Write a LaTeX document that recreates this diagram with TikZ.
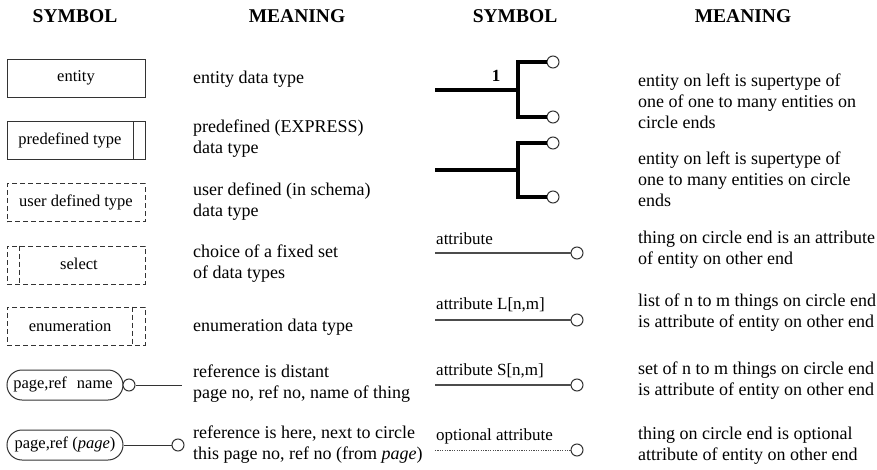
\documentclass[tikz,border=0pt]{standalone}
\usepackage{fontspec}
\setmainfont{Liberation Serif}
\usetikzlibrary{calc}
\begin{document}
\begin{tikzpicture}[x=1pt,y=-1pt,
  hdr/.style={font=\fontsize{19.5}{22}\selectfont\bfseries},
  txt/.style={font=\fontsize{18}{21}\selectfont,align=left,anchor=west,inner sep=0},
  lbl/.style={font=\fontsize{16.5}{20}\selectfont,inner sep=0},
  albl/.style={font=\fontsize{17}{20}\selectfont,inner sep=0,anchor=west},
  box/.style={draw=black!80,line width=1pt,minimum width=138,minimum height=38,inner sep=0},
  dbox/.style={box,dash pattern=on 5pt off 3pt},
  oval/.style={draw=black!80,line width=1pt,rounded corners=15pt,minimum width=116,minimum height=30,inner sep=0},
  ring/.style={circle,draw=black!80,line width=1pt,fill=white,minimum size=12,inner sep=0},
  thickl/.style={line width=4pt},
  attl/.style={draw=black!70,line width=1.3pt},
]
\useasboundingbox (0,0) rectangle (877,470);
% headers
\node[hdr] (h1) at (75,16) {SYMBOL};
\node[hdr] (h2) at (297,16) {MEANING};
\node[hdr] (h3) at (515,16) {SYMBOL};
\node[hdr] (h4) at (743,16) {MEANING};

% left symbols
\node[box] (ent) at (76,79) {};
\node[lbl] (entl) at (76,78) {entity};

\node[box] (pre) at (76,141) {};
\node[lbl] (prel) at (70,140) {predefined type};
\draw[draw=black!80,line width=1pt] ($(pre.north east)+(-12,0)$) -- ($(pre.south east)+(-12,0)$);

\node[dbox] (usr) at (76,203) {};
\node[lbl] (usrl) at (76,202) {user defined type};

\node[dbox] (sel) at (76,265) {};
\node[lbl] (sell) at (79,264) {select};
\draw[draw=black!80,line width=1pt,dash pattern=on 5pt off 3pt] ($(sel.north west)+(13,0)$) -- ($(sel.south west)+(13,0)$);

\node[dbox] (enu) at (76,326) {};
\node[lbl] (enul) at (70,326) {enumeration};
\draw[draw=black!80,line width=1pt,dash pattern=on 5pt off 3pt] ($(enu.north east)+(-13,0)$) -- ($(enu.south east)+(-13,0)$);

\node[oval] (pr1) at (65,385) {};
\node[lbl] (pr1l) at (63,384) {page,ref\hspace{10pt}name};
\node[ring] (r1) at ($(pr1.east)+(5.5,0)$) {};
\coordinate (e1) at (182,385);
\draw[draw=black!80,line width=1pt] (r1) -- (e1);

\node[oval] (pr2) at (65,445) {};
\node[lbl] (pr2l) at (65,444) {page,ref (\textit{page})};
\node[ring] (r2) at (178,445) {};
\draw[draw=black!80,line width=1pt] (pr2) -- (r2);

% left meanings
\node[txt] (m1) at (193,79) {entity data type};
\node[txt] (m2) at (193,139) {predefined (EXPRESS)\\data type};
\node[txt] (m3) at (193,202) {user defined (in schema)\\data type};
\node[txt] (m4) at (193,264) {choice of a fixed set\\of data types};
\node[txt] (m5) at (193,327) {enumeration data type};
\node[txt] (m6) at (193,384) {reference is distant\\page no, ref no, name of thing};
\node[txt] (m7) at (193,445) {reference is here, next to circle\\this page no, ref no (from \textit{page})};

% right symbols: supertype 1
\coordinate (s1l) at (435,90);
\coordinate (s1m) at (518,90);
\node[ring] (s1a) at (553,62) {};
\node[ring] (s1b) at (553,117) {};
\draw[thickl] (s1l) -- (s1m);
\draw[thickl] (s1a.west) -| (s1m) |- (s1b.west);
\node[font=\fontsize{17}{20}\selectfont\bfseries,inner sep=0] (one) at (496,76) {1};

% supertype 2
\coordinate (s2l) at (435,170);
\coordinate (s2m) at (518,170);
\node[ring] (s2a) at (553,143) {};
\node[ring] (s2b) at (553,197) {};
\draw[thickl] (s2l) -- (s2m);
\draw[thickl] (s2a.west) -| (s2m) |- (s2b.west);

% attributes
\node[albl] (a1t) at (436,239) {attribute};
\coordinate (a1s) at (435,253);
\node[ring] (a1c) at (577,253) {};
\draw[attl] (a1s) -- (a1c);

\node[albl] (a2t) at (436,305) {attribute L[n,m]};
\coordinate (a2s) at (435,320);
\node[ring] (a2c) at (577,320) {};
\draw[attl] (a2s) -- (a2c);

\node[albl] (a3t) at (436,371) {attribute S[n,m]};
\coordinate (a3s) at (435,385);
\node[ring] (a3c) at (577,385) {};
\draw[attl] (a3s) -- (a3c);

\node[albl] (a4t) at (436,436) {optional attribute};
\coordinate (a4s) at (435,450);
\node[ring] (a4c) at (577,450) {};
\draw[draw=black!70,line width=0.9pt,dash pattern=on 1.2pt off 1.2pt] (a4s) -- (a4c);

% right meanings
\node[txt] (n1) at (638,101) {entity on left is supertype of\\one of one to many entities on\\circle ends};
\node[txt] (n2) at (638,179) {entity on left is supertype of\\one to many entities on circle\\ends};
\node[txt] (n3) at (638,250) {thing on circle end is an attribute\\of entity on other end};
\node[txt] (n4) at (638,313) {list of n to m things on circle end\\is attribute of entity on other end};
\node[txt] (n5) at (638,381) {set of n to m things on circle end\\is attribute of entity on other end};
\node[txt] (n6) at (638,446) {thing on circle end is optional\\attribute of entity on other end};
\end{tikzpicture}
\end{document}
